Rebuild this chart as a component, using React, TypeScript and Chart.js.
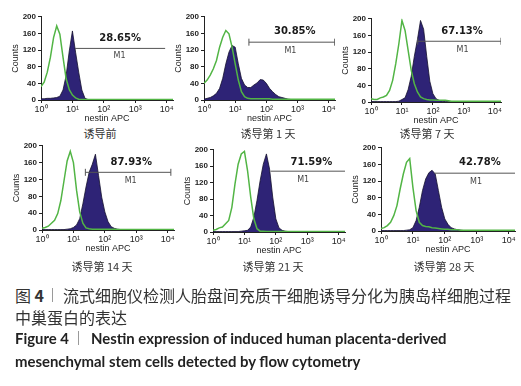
import React, { useEffect, useRef } from 'react';
import { Chart, registerables } from 'chart.js';

Chart.register(...registerables);

// ---------- data ----------
const X_DECADES = [0, 0.1, 0.2, 0.3, 0.4, 0.5, 0.6, 0.7, 0.8, 0.9, 1.0, 1.1, 1.2, 1.3, 1.4, 1.5, 1.6, 1.7, 1.8, 1.9, 2.0, 2.1, 2.2, 2.3, 2.4, 2.5, 2.6, 2.7, 2.8, 2.9, 3.0, 3.5, 4.0, 4.2];
const X_TICK_VALUES = [0, 1, 2, 3, 4];
const X_TICK_LABELS = ['10⁰', '10¹', '10²', '10³', '10⁴'];
const Y_TICKS = [0, 40, 80, 120, 160, 200];

const PANEL_TITLES = ['诱导前', '诱导第 1 天', '诱导第 7 天', '诱导第 14 天', '诱导第 21 天', '诱导第 28 天'];
const PERCENTS = ['28.65%', '30.85%', '67.13%', '87.93%', '71.59%', '42.78%'];

// gate M1 (in decades and counts)
const M1_START = [1.08, 1.44, 1.51, 1.38, 1.83, 1.68];
const M1_END = [3.95, 4.19, 4.2, 4.1, 4.2, 4.2];
const M1_LEVEL = [124, 139, 146, 137, 148, 139];

// isotype control (green) and nestin (filled) histograms
const ISO_PRE = [32, 43, 67, 103, 150, 178, 158, 103, 51, 25, 12, 5, 2, 1, 1, 1, 1, 1, 1, 1, 1, 1, 1, 1, 1, 1, 1, 1, 1, 1, 1, 1, 1, 1];
const NES_PRE = [3, 3, 4, 4, 5, 6, 9, 24, 59, 118, 166, 115, 67, 24, 4, 1, 0, 0, 0, 0, 0, 0, 0, 0, 0, 0, 0, 0, 0, 0, 0, 0, 0, 0];

const ISO_D1 = [40, 48, 60, 75, 95, 127, 151, 167, 159, 127, 87, 48, 20, 8, 4, 3, 3, 3, 3, 3, 3, 3, 2, 2, 2, 2, 2, 2, 2, 2, 2, 2, 2, 2];
const NES_D1 = [2, 4, 6, 10, 16, 28, 52, 87, 115, 131, 127, 87, 52, 36, 30, 30, 36, 41, 49, 48, 40, 28, 20, 13, 8, 6, 4, 2, 1, 0, 0, 0, 0, 0];

const ISO_D7 = [8, 6, 6, 10, 12, 16, 28, 52, 92, 140, 196, 172, 124, 76, 44, 24, 12, 8, 6, 5, 5, 4, 4, 4, 4, 3, 2, 2, 2, 2, 2, 2, 2, 2];
const NES_D7 = [1, 1, 1, 1, 1, 1, 1, 1, 1, 2, 6, 10, 30, 62, 110, 150, 196, 175, 110, 50, 20, 8, 4, 2, 1, 1, 0, 0, 0, 0, 0, 0, 0, 0];

const ISO_D14 = [4, 6, 9, 16, 23, 39, 70, 117, 164, 187, 160, 94, 43, 16, 5, 3, 2, 2, 2, 2, 2, 2, 2, 2, 1, 1, 1, 1, 1, 1, 1, 1, 1, 1];
const NES_D14 = [1, 1, 1, 1, 1, 1, 1, 1, 2, 3, 6, 12, 27, 62, 102, 137, 156, 180, 129, 78, 43, 20, 8, 4, 2, 1, 0, 0, 0, 0, 0, 0, 0, 0];

const ISO_D21 = [4, 6, 10, 12, 20, 28, 60, 117, 165, 190, 196, 149, 85, 32, 8, 2, 2, 1, 1, 1, 1, 1, 1, 1, 1, 1, 1, 1, 1, 1, 1, 1, 1, 1];
const NES_D21 = [1, 1, 1, 1, 1, 1, 1, 1, 1, 2, 3, 4, 12, 36, 77, 125, 165, 190, 153, 85, 32, 10, 4, 2, 1, 1, 0, 0, 0, 0, 0, 0, 0, 0];

const ISO_D28 = [6, 8, 13, 21, 37, 61, 101, 137, 165, 174, 105, 49, 21, 13, 11, 10, 8, 7, 6, 5, 4, 4, 3, 3, 3, 2, 2, 2, 2, 2, 2, 2, 2, 2];
const NES_D28 = [1, 1, 1, 1, 1, 1, 1, 1, 2, 3, 8, 25, 57, 97, 125, 140, 146, 137, 97, 57, 29, 16, 8, 5, 3, 2, 1, 1, 0, 0, 0, 0, 0, 0];

const ISO_SERIES = [ISO_PRE, ISO_D1, ISO_D7, ISO_D14, ISO_D21, ISO_D28];
const NES_SERIES = [NES_PRE, NES_D1, NES_D7, NES_D14, NES_D21, NES_D28];

// ---------- layout (page pixels) ----------
const BOXES = [
  { x0: 41, x1: 173, yTop: 16, yBot: 100 },
  { x0: 204, x1: 336, yTop: 16, yBot: 100 },
  { x0: 371, x1: 502, yTop: 18, yBot: 102 },
  { x0: 42, x1: 175, yTop: 145, yBot: 230 },
  { x0: 213, x1: 345, yTop: 149, yBot: 232 },
  { x0: 381, x1: 515, yTop: 147, yBot: 231 },
];
const CAPTION_POS = [
  { cx: 100, cy: 133 },
  { cx: 268, cy: 133 },
  { cx: 427, cy: 133 },
  { cx: 102, cy: 266 },
  { cx: 273, cy: 266 },
  { cx: 444, cy: 266 },
];
const LABEL_POS = [
  { px: 2.52, py: 148, mx: 2.5, my: 107 },
  { px: 2.91, py: 164, mx: 2.77, my: 119 },
  { px: 2.94, py: 170, mx: 2.96, my: 124 },
  { px: 2.84, py: 160, mx: 2.82, my: 116 },
  { px: 3.13, py: 169, mx: 2.87, my: 127 },
  { px: 3.1, py: 164, mx: 2.98, my: 117 },
];
const CAPS = [false, true, true, true, false, false];

const LEFT = 31;
const RIGHT = 4;
const TOP = 6;
const BOTTOM = 24;

const GREEN = '#52b545';
const NAVY = '#2e2376';
const GATE = '#555555';

const gateTextPlugin = {
  id: 'gateText',
  afterDatasetsDraw(chart: any, _args: any, opts: any) {
    const { ctx, scales } = chart;
    const xs = scales.x;
    const ys = scales.y;
    ctx.save();
    ctx.textAlign = 'center';
    ctx.textBaseline = 'middle';
    ctx.fillStyle = '#1a1a1a';
    ctx.font = "bold 10px 'DejaVu Sans'";
    ctx.fillText(opts.pct, xs.getPixelForValue(opts.px), ys.getPixelForValue(opts.py));
    ctx.fillStyle = '#444';
    ctx.font = "8px 'DejaVu Sans'";
    ctx.fillText('M1', xs.getPixelForValue(opts.mx), ys.getPixelForValue(opts.my));
    ctx.restore();
  },
};

function Histogram({ idx }: { idx: number }) {
  const ref = useRef<HTMLCanvasElement>(null);
  const box = BOXES[idx];
  const W = box.x1 - box.x0 + LEFT + RIGHT;
  const H = box.yBot - box.yTop + TOP + BOTTOM;

  useEffect(() => {
    if (!ref.current) return;
    const iso = X_DECADES.map((x, i) => ({ x, y: ISO_SERIES[idx][i] }));
    const nes = X_DECADES.map((x, i) => ({ x, y: NES_SERIES[idx][i] }));
    const gate = [
      { x: M1_START[idx], y: M1_LEVEL[idx] },
      { x: M1_END[idx], y: M1_LEVEL[idx] },
    ];
    const lp = LABEL_POS[idx];
    const chart = new Chart(ref.current, {
      type: 'line',
      data: {
        datasets: [
          {
            data: gate,
            borderColor: GATE,
            borderWidth: 1,
            pointStyle: 'line',
            pointRotation: 90,
            pointRadius: CAPS[idx] ? 3.5 : 0,
            pointBorderColor: GATE,
            pointBorderWidth: 1,
            fill: false,
            order: 0,
          },
          {
            data: iso,
            borderColor: GREEN,
            borderWidth: 1.5,
            pointRadius: 0,
            fill: false,
            tension: 0,
            order: 1,
          },
          {
            data: nes,
            borderColor: '#15112e',
            borderWidth: 0.8,
            backgroundColor: NAVY,
            pointRadius: 0,
            fill: 'origin',
            tension: 0,
            order: 2,
          },
        ],
      },
      options: {
        responsive: false,
        maintainAspectRatio: false,
        animation: false,
        devicePixelRatio: 1,
        events: [],
        layout: { padding: { left: 0, right: RIGHT, top: TOP, bottom: 0 } },
        plugins: {
          legend: { display: false },
          tooltip: { enabled: false },
          title: { display: false },
          gateText: { pct: PERCENTS[idx], px: lp.px, py: lp.py, mx: lp.mx, my: lp.my },
        } as any,
        scales: {
          x: {
            type: 'linear',
            min: 0,
            max: 4.2,
            afterBuildTicks: (s: any) => {
              s.ticks = X_TICK_VALUES.map((v) => ({ value: v }));
            },
            afterFit: (s: any) => {
              s.height = BOTTOM;
            },
            ticks: {
              autoSkip: false,
              maxRotation: 0,
              padding: 1,
              color: '#222',
              font: { family: "'Liberation Sans', Arial", size: 9 },
              callback: (v: any) => X_TICK_LABELS[X_TICK_VALUES.indexOf(Number(v))] ?? '',
            },
            grid: { display: true, drawOnChartArea: false, drawTicks: true, tickLength: 3, color: '#222' },
            border: { display: true, color: '#222', width: 1 },
            title: {
              display: true,
              text: 'nestin APC',
              color: '#222',
              padding: { top: 0, bottom: 0 },
              font: { family: "'Liberation Sans', Arial", size: 9 },
            },
          },
          y: {
            type: 'linear',
            min: 0,
            max: 200,
            afterBuildTicks: (s: any) => {
              s.ticks = Y_TICKS.map((v) => ({ value: v }));
            },
            afterFit: (s: any) => {
              s.width = LEFT;
            },
            ticks: {
              padding: 2,
              color: '#222',
              font: { family: "'Liberation Sans', Arial", size: 8, weight: 'bold' },
            },
            grid: { display: true, drawOnChartArea: false, drawTicks: true, tickLength: 3, color: '#222' },
            border: { display: true, color: '#222', width: 1 },
            title: {
              display: true,
              text: 'Counts',
              color: '#222',
              padding: { top: 0, bottom: 0 },
              font: { family: "'Liberation Sans', Arial", size: 9 },
            },
          },
        },
      } as any,
      plugins: [gateTextPlugin as any],
    });
    return () => chart.destroy();
  }, [idx]);

  const cap = CAPTION_POS[idx];
  return (
    <>
      <canvas
        ref={ref}
        width={W}
        height={H}
        style={{ position: 'absolute', left: box.x0 - LEFT, top: box.yTop - TOP, width: W, height: H }}
      />
      <div
        style={{
          position: 'absolute',
          left: cap.cx - 60,
          top: cap.cy - 8,
          width: 120,
          height: 16,
          lineHeight: '16px',
          textAlign: 'center',
          fontFamily: "'Noto Sans CJK SC', sans-serif",
          fontSize: 11,
          color: '#333',
          whiteSpace: 'nowrap',
        }}
      >
        {PANEL_TITLES[idx]}
      </div>
    </>
  );
}

const CN_CAPTION_1 = '流式细胞仪检测人胎盘间充质干细胞诱导分化为胰岛样细胞过程';
const CN_CAPTION_2 = '中巢蛋白的表达';
const EN_CAPTION_1 = 'Nestin expression of induced human placenta-derived';
const EN_CAPTION_2 = 'mesenchymal stem cells detected by flow cytometry';

const abs = (left: number, top: number, extra: any = {}) => ({
  position: 'absolute' as const,
  left,
  top,
  whiteSpace: 'nowrap' as const,
  ...extra,
});

export default function App() {
  const cn = { fontFamily: "'Noto Sans CJK SC', sans-serif", fontSize: 16, lineHeight: '20px', color: '#333' };
  const en = { fontFamily: "Lato, 'Open Sans', sans-serif", fontSize: 14.9, fontWeight: 'bold', lineHeight: '18px', color: '#222' };
  const sep = (left: number, top: number) => (
    <div style={abs(left, top, { width: 1, height: 14, background: '#9a9a9a' })} />
  );
  return (
    <div style={{ position: 'absolute', left: 0, top: 0, width: 521, height: 386, background: '#fff', overflow: 'hidden' }}>
      {[0, 1, 2, 3, 4, 5].map((i) => (
        <Histogram key={i} idx={i} />
      ))}
      <div style={abs(15, 285, cn)}>
        图 <b>4</b>
      </div>
      {sep(52, 288)}
      <div style={abs(63, 285, cn)}>{CN_CAPTION_1}</div>
      <div style={abs(15, 307, cn)}>{CN_CAPTION_2}</div>
      <div style={abs(15, 329, en)}>Figure 4</div>
      {sep(78, 331)}
      <div style={abs(91, 329, en)}>{EN_CAPTION_1}</div>
      <div style={abs(15, 352, en)}>{EN_CAPTION_2}</div>
    </div>
  );
}
